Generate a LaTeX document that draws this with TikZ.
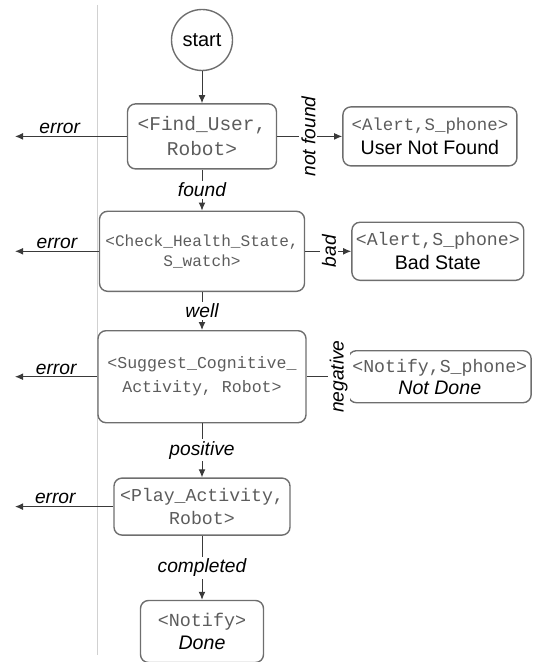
\documentclass[tikz,border=0pt]{standalone}
\usepackage{fontspec}
\setmainfont{Liberation Sans}
\setmonofont{Liberation Mono}
\usetikzlibrary{arrows.meta,positioning}
\definecolor{boxgray}{HTML}{6E6E6E}
\definecolor{actgray}{HTML}{5C5C5C}
\definecolor{linegray}{HTML}{3A3A3A}
\newcommand{\act}[2][9.1]{{\ttfamily\upshape\fontsize{#1}{11}\selectfont\color{actgray}#2}}

\begin{document}
\begin{tikzpicture}[x=1pt,y=1pt, box/.style={draw=boxgray,rounded corners=4pt,align=center,line width=0.7pt,inner sep=2pt}, lbl/.style={font=\itshape\fontsize{9.6}{11}\selectfont,fill=white,inner sep=1pt}, >={Latex[length=4pt,width=3.4pt]}]
\useasboundingbox (0,0) rectangle (268,-331);
\draw[black!18,line width=0.5pt] (48.5,-2.5) -- (48.5,-327.5);
\coordinate (errx) at (7.5,0);
\node[circle,draw=boxgray,line width=0.7pt,minimum size=30.5pt,inner sep=0pt,font=\fontsize{10}{12}\selectfont] (start) at (101,-20) {start};
\node[box,below=16pt of start,minimum width=74.5pt,minimum height=32.5pt,font=\fontsize{9.8}{12.5}\selectfont] (find) {\act[9.75]{<Find\_User,}\\\act[9.75]{Robot>}};
\node[box,right=32.5pt of find,minimum width=87pt,minimum height=29.5pt,font=\fontsize{9.8}{12}\selectfont] (nouser) {\act[8.7]{<Alert,S\_phone>}\\User Not Found};
\node[box,below=20.5pt of find,minimum width=102.5pt,minimum height=40pt,font=\fontsize{8}{10}\selectfont] (health) {\act[8.05]{<Check\_Health\_State,}\\\act[8.05]{S\_watch>}};
\node[box,right=23pt of health,minimum width=84pt,minimum height=29pt,font=\fontsize{9.8}{12}\selectfont] (badstate) {\act{<Alert,S\_phone>}\\Bad State};
\node[box,below=19pt of health,minimum width=104pt,minimum height=46pt,font=\fontsize{8.3}{12}\selectfont] (suggest) {\act[8.3]{<Suggest\_Cognitive\_}\\\act[8.3]{Activity, Robot>}};
\node[box,right=20.5pt of suggest,minimum width=88pt,minimum height=26pt,font=\itshape\fontsize{9.8}{11}\selectfont] (notdone) {\act{<Notify,S\_phone>}\\Not Done};
\node[box,below=27pt of suggest,minimum width=88pt,minimum height=28.5pt,font=\fontsize{9.1}{11.5}\selectfont] (play) {\act{<Play\_Activity,}\\\act{Robot>}};
\node[box,below=32pt of play,minimum width=61.5pt,minimum height=31pt,font=\itshape\fontsize{9.8}{11.5}\selectfont] (done) {\act[9.2]{<Notify>}\\Done};
\coordinate (err1) at (find -| errx);
\coordinate (err2) at (health -| errx);
\coordinate (err3) at (suggest -| errx);
\coordinate (err4) at (play -| errx);
\begin{scope}[draw=linegray,line width=0.5pt]
\draw[->] (start) -- (find);
\draw[->] (find) -- node[lbl,rotate=90,pos=0.48] {not found} (nouser);
\draw[->] (find) -- node[lbl] {found} (health);
\draw[->] (health) -- node[lbl,rotate=90,pos=0.52] {bad} (badstate);
\draw[->] (health) -- node[lbl] {well} (suggest);
\draw[->] (suggest) -- node[lbl,rotate=90,pos=0.78] {negative} (notdone);
\draw[->] (suggest) -- node[lbl] {positive} (play);
\draw[->] (play) -- node[lbl] {completed} (done);
\draw[->] (find) -- node[lbl,above,pos=0.6] {error} (err1);
\draw[->] (health) -- node[lbl,above,pos=0.5] {error} (err2);
\draw[->] (suggest) -- node[lbl,above,pos=0.5] {error} (err3);
\draw[->] (play) -- node[lbl,above,pos=0.59] {error} (err4);
\end{scope}
\end{tikzpicture}
\end{document}
